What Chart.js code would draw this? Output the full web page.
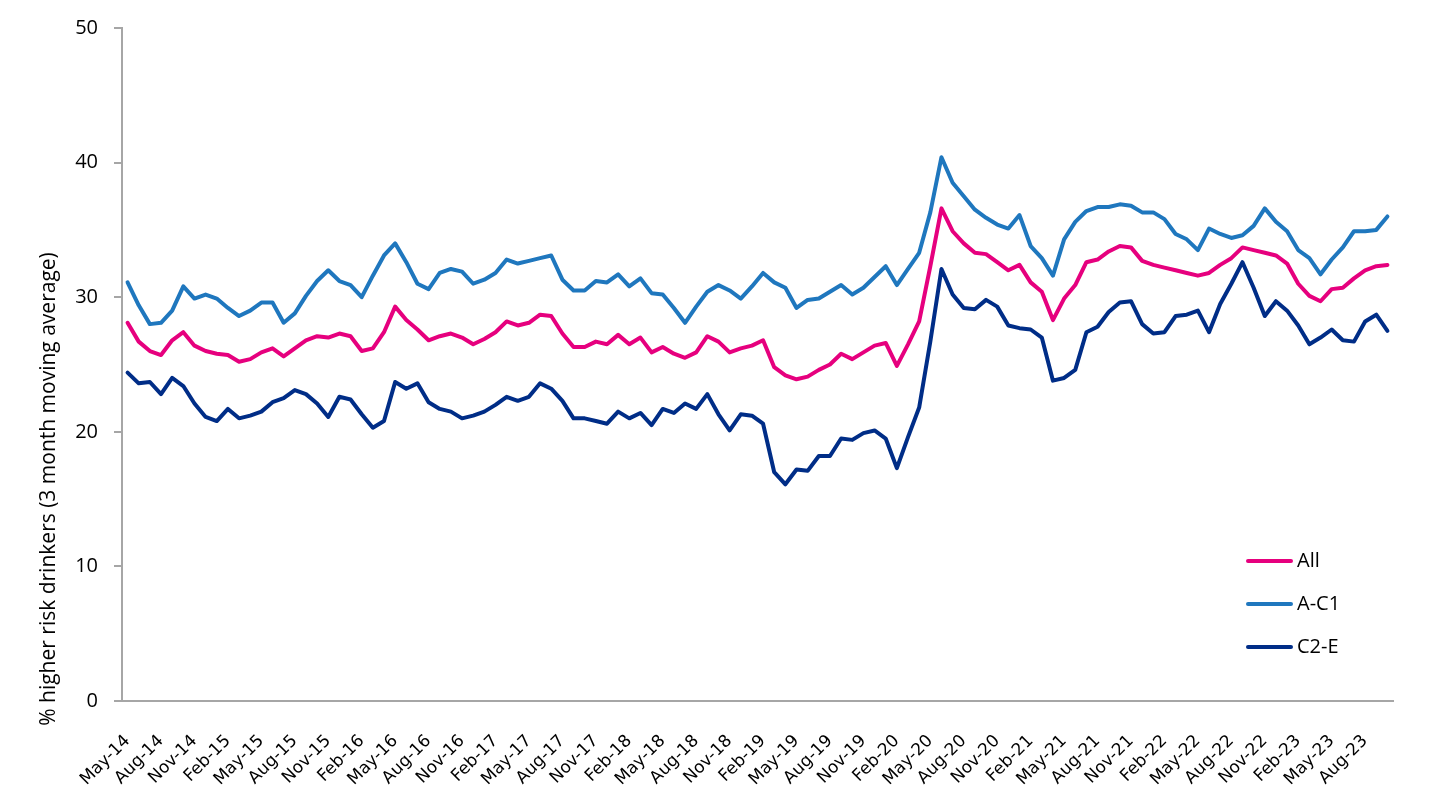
<!DOCTYPE html>
<html>
<head>
<meta charset="utf-8">
<script src="https://cdn.jsdelivr.net/npm/chart.js@4/dist/chart.umd.min.js"></script>
<style>
    html, body { margin: 0; padding: 0; background: #fff; }
    #wrap { width: 1456px; height: 806px; position: relative; }
</style>
</head>
<body>
<div id="wrap"><canvas id="drinkers-chart"></canvas></div>
<script>
// Mois, de May-14 à Oct-23
const months = [
    'May-14', 'Jun-14', 'Jul-14', 'Aug-14', 'Sep-14', 'Oct-14', 'Nov-14', 'Dec-14',
    'Jan-15', 'Feb-15', 'Mar-15', 'Apr-15', 'May-15', 'Jun-15', 'Jul-15', 'Aug-15', 'Sep-15', 'Oct-15', 'Nov-15', 'Dec-15',
    'Jan-16', 'Feb-16', 'Mar-16', 'Apr-16', 'May-16', 'Jun-16', 'Jul-16', 'Aug-16', 'Sep-16', 'Oct-16', 'Nov-16', 'Dec-16',
    'Jan-17', 'Feb-17', 'Mar-17', 'Apr-17', 'May-17', 'Jun-17', 'Jul-17', 'Aug-17', 'Sep-17', 'Oct-17', 'Nov-17', 'Dec-17',
    'Jan-18', 'Feb-18', 'Mar-18', 'Apr-18', 'May-18', 'Jun-18', 'Jul-18', 'Aug-18', 'Sep-18', 'Oct-18', 'Nov-18', 'Dec-18',
    'Jan-19', 'Feb-19', 'Mar-19', 'Apr-19', 'May-19', 'Jun-19', 'Jul-19', 'Aug-19', 'Sep-19', 'Oct-19', 'Nov-19', 'Dec-19',
    'Jan-20', 'Feb-20', 'Mar-20', 'Apr-20', 'May-20', 'Jun-20', 'Jul-20', 'Aug-20', 'Sep-20', 'Oct-20', 'Nov-20', 'Dec-20',
    'Jan-21', 'Feb-21', 'Mar-21', 'Apr-21', 'May-21', 'Jun-21', 'Jul-21', 'Aug-21', 'Sep-21', 'Oct-21', 'Nov-21', 'Dec-21',
    'Jan-22', 'Feb-22', 'Mar-22', 'Apr-22', 'May-22', 'Jun-22', 'Jul-22', 'Aug-22', 'Sep-22', 'Oct-22', 'Nov-22', 'Dec-22',
    'Jan-23', 'Feb-23', 'Mar-23', 'Apr-23', 'May-23', 'Jun-23', 'Jul-23', 'Aug-23', 'Sep-23', 'Oct-23'
];

const allDrinkers = [
    28.1, 26.7, 26.0, 25.7, 26.8, 27.4, 26.4, 26.0, 25.8, 25.7, 25.2, 25.4, 25.9, 26.2, 25.6, 26.2, 26.8, 27.1, 27.0, 27.3,
    27.1, 26.0, 26.2, 27.4, 29.3, 28.3, 27.6, 26.8, 27.1, 27.3, 27.0, 26.5, 26.9, 27.4, 28.2, 27.9, 28.1, 28.7, 28.6, 27.3,
    26.3, 26.3, 26.7, 26.5, 27.2, 26.5, 27.0, 25.9, 26.3, 25.8, 25.5, 25.9, 27.1, 26.7, 25.9, 26.2, 26.4, 26.8, 24.8, 24.2,
    23.9, 24.1, 24.6, 25.0, 25.8, 25.4, 25.9, 26.4, 26.6, 24.9, 26.5, 28.2, 32.3, 36.6, 34.9, 34.0, 33.3, 33.2, 32.6, 32.0,
    32.4, 31.1, 30.4, 28.3, 29.9, 30.9, 32.6, 32.8, 33.4, 33.8, 33.7, 32.7, 32.4, 32.2, 32.0, 31.8, 31.6, 31.8, 32.4, 32.9,
    33.7, 33.5, 33.3, 33.1, 32.5, 31.0, 30.1, 29.7, 30.6, 30.7, 31.4, 32.0, 32.3, 32.4
];

const abc1 = [
    31.1, 29.4, 28.0, 28.1, 29.0, 30.8, 29.9, 30.2, 29.9, 29.2, 28.6, 29.0, 29.6, 29.6, 28.1, 28.8, 30.1, 31.2, 32.0, 31.2,
    30.9, 30.0, 31.6, 33.1, 34.0, 32.6, 31.0, 30.6, 31.8, 32.1, 31.9, 31.0, 31.3, 31.8, 32.8, 32.5, 32.7, 32.9, 33.1, 31.3,
    30.5, 30.5, 31.2, 31.1, 31.7, 30.8, 31.4, 30.3, 30.2, 29.2, 28.1, 29.3, 30.4, 30.9, 30.5, 29.9, 30.8, 31.8, 31.1, 30.7,
    29.2, 29.8, 29.9, 30.4, 30.9, 30.2, 30.7, 31.5, 32.3, 30.9, 32.1, 33.3, 36.3, 40.4, 38.5, 37.5, 36.5, 35.9, 35.4, 35.1,
    36.1, 33.8, 32.9, 31.6, 34.3, 35.6, 36.4, 36.7, 36.7, 36.9, 36.8, 36.3, 36.3, 35.8, 34.7, 34.3, 33.5, 35.1, 34.7, 34.4,
    34.6, 35.3, 36.6, 35.6, 34.9, 33.5, 32.9, 31.7, 32.8, 33.7, 34.9, 34.9, 35.0, 36.0
];

const c2e = [
    24.4, 23.6, 23.7, 22.8, 24.0, 23.4, 22.1, 21.1, 20.8, 21.7, 21.0, 21.2, 21.5, 22.2, 22.5, 23.1, 22.8, 22.1, 21.1, 22.6,
    22.4, 21.3, 20.3, 20.8, 23.7, 23.2, 23.6, 22.2, 21.7, 21.5, 21.0, 21.2, 21.5, 22.0, 22.6, 22.3, 22.6, 23.6, 23.2, 22.3,
    21.0, 21.0, 20.8, 20.6, 21.5, 21.0, 21.4, 20.5, 21.7, 21.4, 22.1, 21.7, 22.8, 21.3, 20.1, 21.3, 21.2, 20.6, 17.0, 16.1,
    17.2, 17.1, 18.2, 18.2, 19.5, 19.4, 19.9, 20.1, 19.5, 17.3, 19.6, 21.8, 26.7, 32.1, 30.2, 29.2, 29.1, 29.8, 29.3, 27.9,
    27.7, 27.6, 27.0, 23.8, 24.0, 24.6, 27.4, 27.8, 28.9, 29.6, 29.7, 28.0, 27.3, 27.4, 28.6, 28.7, 29.0, 27.4, 29.5, 31.0,
    32.6, 30.7, 28.6, 29.7, 29.0, 27.9, 26.5, 27.0, 27.6, 26.8, 26.7, 28.2, 28.7, 27.5
];

const yTicks = [0, 10, 20, 30, 40, 50];

const axisColor = '#a6a6a6';

// Titre de l'axe Y et légende dessinés à la main
const customDraw = {
    id: 'customDraw',
    afterDraw(chart) {
        const ctx = chart.ctx;
        ctx.save();
        ctx.fillStyle = '#000';
        ctx.font = '21px "Open Sans"';
        ctx.textAlign = 'center';
        ctx.textBaseline = 'middle';
        ctx.translate(49, 489);
        ctx.rotate(-Math.PI / 2);
        ctx.fillText('% higher risk drinkers (3 month moving average)', 0, 0);
        ctx.restore();

        ctx.save();
        chart.data.datasets.forEach((ds, i) => {
            const y = 561 + i * 43;
            ctx.strokeStyle = ds.borderColor;
            ctx.lineWidth = 4;
            ctx.lineCap = 'round';
            ctx.beginPath();
            ctx.moveTo(1248, y);
            ctx.lineTo(1291, y);
            ctx.stroke();
            ctx.fillStyle = '#000';
            ctx.font = '20px "Open Sans"';
            ctx.textAlign = 'left';
            ctx.textBaseline = 'middle';
            ctx.fillText(ds.label, 1297, y);
        });
        ctx.restore();
    }
};

const ctx = document.getElementById('drinkers-chart').getContext('2d');
new Chart(ctx, {
    type: 'line',
    data: {
        labels: months,
        datasets: [{
            label: 'All',
            data: allDrinkers,
            borderColor: '#e6007e',
        }, {
            label: 'A-C1',
            data: abc1,
            borderColor: '#1f77be',
        }, {
            label: 'C2-E',
            data: c2e,
            borderColor: '#002d87',
        }]
    },
    options: {
        responsive: true,
        maintainAspectRatio: false,
        animation: false,
        layout: { padding: { top: 27, right: 63, left: 0, bottom: 0 } },
        elements: {
            point: { radius: 0 },
            line: { borderWidth: 4, tension: 0, borderJoinStyle: 'round', borderCapStyle: 'round' }
        },
        plugins: {
            legend: { display: false },
            tooltip: { enabled: false }
        },
        scales: {
            x: {
                offset: true,
                grid: { display: false },
                border: { display: true, color: axisColor, width: 2 },
                afterFit: scale => { scale.height = 105; },
                ticks: {
                    autoSkip: false,
                    maxRotation: 45,
                    minRotation: 45,
                    padding: 22,
                    color: '#000',
                    font: { family: 'DejaVu Sans', size: 17 },
                    callback: function (value, index) {
                        return index % 3 === 0 ? this.getLabelForValue(value) : '';
                    }
                }
            },
            y: {
                min: yTicks[0],
                max: yTicks[yTicks.length - 1],
                afterFit: scale => { scale.width = 122; },
                afterBuildTicks: scale => { scale.ticks = yTicks.map(v => ({ value: v })); },
                grid: { drawOnChartArea: false, drawTicks: true, tickLength: 8, color: axisColor, lineWidth: 2 },
                border: { display: true, color: axisColor, width: 2 },
                ticks: {
                    padding: 16,
                    color: '#000',
                    font: { family: 'Open Sans', size: 20 }
                }
            }
        }
    },
    plugins: [customDraw]
});
</script>
</body>
</html>
